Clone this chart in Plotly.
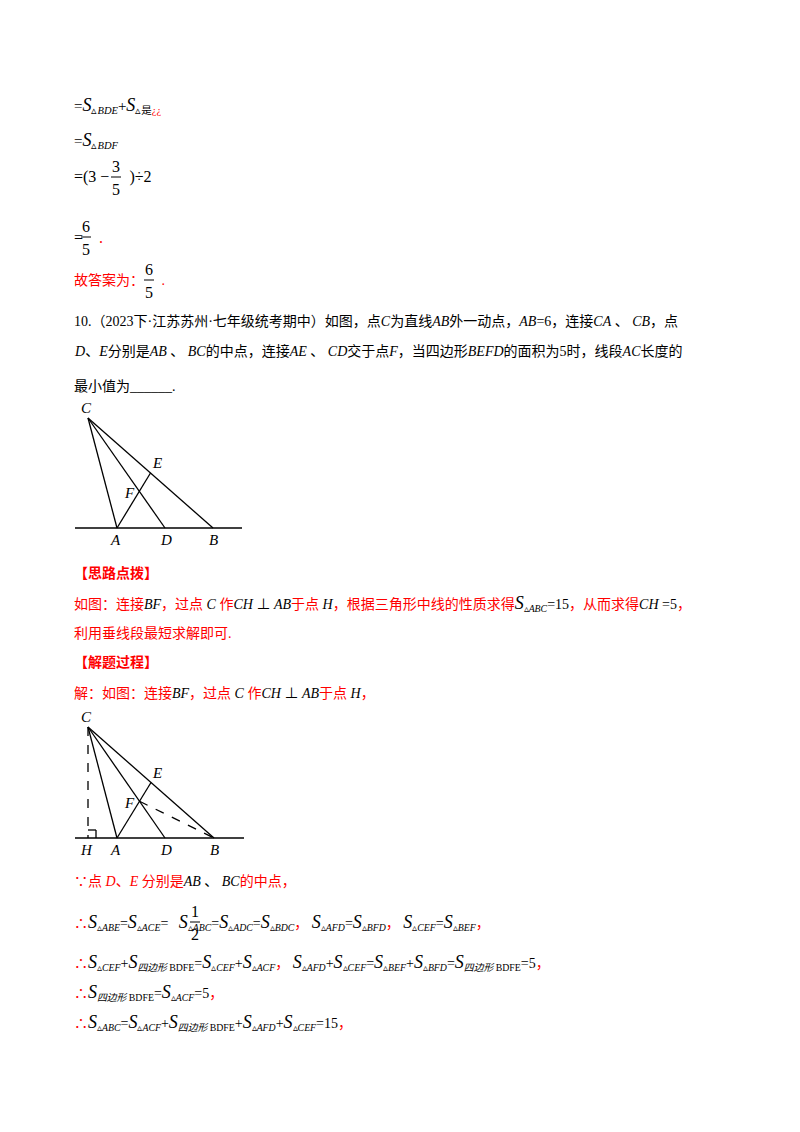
import plotly.graph_objects as go

RED = "#ff0000"
FONT = "Liberation Serif, Noto Sans CJK SC"

# geometry of figure 1 (page pixels)
fig1_x = [88, 117, 165, 213]
fig1_y = [418, 528, 528, 528]
base1_x = [75, 242]
base1_y = 528

# figure 2
fig2_x = [88, 117, 165, 214]
fig2_y = [727, 838, 838, 838]
base2_x = [75, 244]
base2_y = 838

SP = "&nbsp;"


def r(s):
    return f"<span style='color:{RED}'>{s}</span>"


def S(s, tri=True):
    mark = "▵" if tri else ""
    return f"<span style='font-size:18px'><i>S</i></span><sub>{mark}{s}</sub>"


def I(s):
    return f"<i>{s}</i>"


QB = "<i>四边形</i> BDFE"

# text lines: (x, y, text, size)
lines = [
    (72, 105, "=" + S(I("BDE")) + "+" + S("是" + r("¿¿")), 15),
    (72, 140, "=" + S(I("BDF")), 15),
    (72, 177, "=(3 −" + SP * 5 + ")÷2", 16),
    (72, 237, "=" + SP * 4 + r("."), 16),
    (72, 280, r("故答案为：") + SP * 5 + r("."), 14),
    (72, 321, "10.（2023下·江苏苏州·七年级统考期中）如图，点" + I("C") + "为直线" + I("AB") + "外一动点，" + I("AB") + "=6，连接" + I("CA") + " 、 " + I("CB") + "，点", 14),
    (72, 351, I("D") + "、" + I("E") + "分别是" + I("AB") + " 、 " + I("BC") + "的中点，连接" + I("AE") + " 、 " + I("CD") + "交于点" + I("F") + "，当四边形" + I("BEFD") + "的面积为5时，线段" + I("AC") + "长度的", 14),
    (72, 386, "最小值为______.", 14),
    (72, 573, r("<b>【思路点拨】</b>"), 14),
    (72, 603, r("如图：连接") + I("BF") + r("，过点 ") + I("C") + r(" 作") + I("CH") + " ⊥ " + I("AB") + r("于点 ") + I("H")
     + r("，根据三角形中线的性质求得") + S(I("ABC")) + "=15" + r("，从而求得") + I("CH") + " =5" + r("，"), 14),
    (72, 633, r("利用垂线段最短求解即可."), 14),
    (72, 662, r("<b>【解题过程】</b>"), 14),
    (72, 693, r("解：如图：连接") + I("BF") + r("，过点 ") + I("C") + r(" 作") + I("CH") + " ⊥ " + I("AB") + r("于点 ") + I("H") + r("，"), 14),
    (72, 881, r("∵点 <i>D</i>、<i>E</i> 分别是") + I("AB") + " 、 " + I("BC") + r("的中点，"), 14),
    (72, 922, r("∴") + S(I("ABE")) + "=" + S(I("ACE")) + "=" + SP * 3 + S(I("ABC"))
     + "=" + S(I("ADC")) + "=" + S(I("BDC")) + r("，") + SP + S(I("AFD")) + "=" + S(I("BFD")) + r("，") + SP
     + S(I("CEF")) + "=" + S(I("BEF")) + r("，"), 14),
    (72, 962, r("∴") + S(I("CEF")) + "+" + S(QB, False) + "=" + S(I("CEF")) + "+" + S(I("ACF")) + r("，") + SP
     + S(I("AFD")) + "+" + S(I("CEF")) + "=" + S(I("BEF")) + "+" + S(I("BFD")) + "=" + S(QB, False) + "=5" + r("，"), 14),
    (72, 992, r("∴") + S(QB, False) + "=" + S(I("ACF")) + "=5" + r("，"), 14),
    (72, 1022, r("∴") + S(I("ABC")) + "=" + S(I("ACF")) + "+" + S(QB, False) + "+" + S(I("AFD")) + "+" + S(I("CEF")) + "=15" + r("，"), 14),
]

# stacked fractions: (x centre, y of bar, numerator, denominator, size)
fractions = [
    (116, 177, "3", "5", 16),
    (86, 237, "6", "5", 16),
    (149, 280, "6", "5", 16),
    (195, 922, "1", "2", 16),
]

OFF = 8  # page body margin in the browser

fig = go.Figure()
ann = []
for x, y, t, s in lines:
    ann.append(dict(x=x, y=y, text=t, showarrow=False, xanchor="left", yanchor="middle",
                    font=dict(family=FONT, size=s, color="black")))
for x, y, n, d, s in fractions:
    fig.add_trace(go.Scatter(x=[x - 5, x + 5], y=[y, y], mode="lines",
                             line=dict(color="black", width=1), hoverinfo="skip"))
    ann.append(dict(x=x, y=y - 11, text=n, showarrow=False, font=dict(family=FONT, size=s, color="black")))
    ann.append(dict(x=x, y=y + 12, text=d, showarrow=False, font=dict(family=FONT, size=s, color="black")))


def seg(x0, y0, x1, y1, dash="solid"):
    fig.add_trace(go.Scatter(x=[x0, x1], y=[y0, y1], mode="lines",
                             line=dict(color="black", width=1.3, dash=dash), hoverinfo="skip"))


def inter(p1, p2, p3, p4):
    (x1, y1), (x2, y2), (x3, y3), (x4, y4) = p1, p2, p3, p4
    d = (x1 - x2) * (y3 - y4) - (y1 - y2) * (x3 - x4)
    t = ((x1 - x3) * (y3 - y4) - (y1 - y3) * (x3 - x4)) / d
    return x1 + t * (x2 - x1), y1 + t * (y2 - y1)


def draw(xs, ys, bx, by, second):
    C, A, D, B = list(zip(xs, ys))
    E = ((C[0] + B[0]) / 2, (C[1] + B[1]) / 2)
    F = inter(A, E, C, D)
    seg(bx[0], by, bx[1], by)
    seg(*C, *A)
    seg(*C, *D)
    seg(*C, *B)
    seg(*A, *E)
    labels = [("C", C[0] - 2, C[1] - 10), ("A", A[0] - 2, by + 12), ("D", D[0] + 1, by + 12),
              ("B", B[0], by + 12), ("E", E[0] + 6, E[1] - 10), ("F", F[0] - 10, F[1] + 2)]
    if second:
        seg(C[0], C[1], C[0], by, "dash")
        seg(*F, *B, "dash")
        seg(C[0], by - 8, C[0] + 8, by - 8)
        seg(C[0] + 8, by - 8, C[0] + 8, by)
        labels.append(("H", C[0] - 2, by + 12))
    for t, x, y in labels:
        ann.append(dict(x=x, y=y, text=f"<i>{t}</i>", showarrow=False,
                        font=dict(family="Liberation Serif", size=15, color="black")))


draw(fig1_x, fig1_y, base1_x, base1_y, False)
draw(fig2_x, fig2_y, base2_x, base2_y, True)

fig.update_layout(
    width=800, height=1132, margin=dict(l=0, r=0, t=0, b=0),
    paper_bgcolor="white", plot_bgcolor="white", showlegend=False,
    xaxis=dict(range=[OFF, 800 + OFF], visible=False, fixedrange=True),
    yaxis=dict(range=[1132 + OFF, OFF], visible=False, fixedrange=True),
    annotations=ann,
)
fig.write_html("out.html")
